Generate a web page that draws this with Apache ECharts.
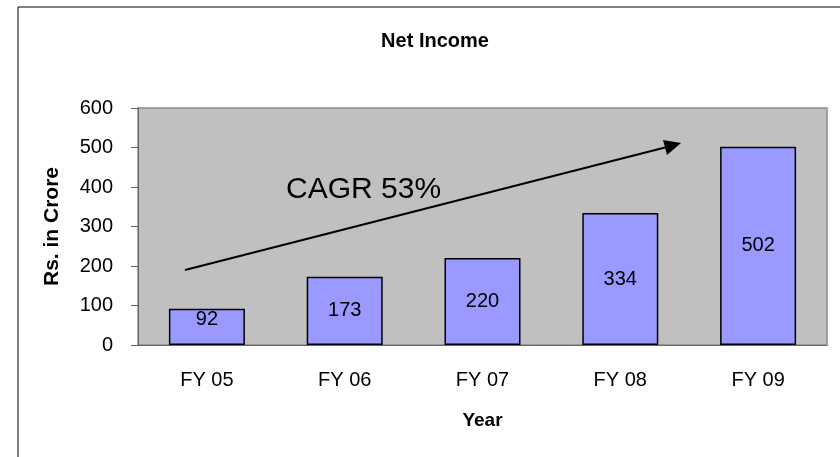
<!DOCTYPE html>
<html>
<head>
<meta charset="utf-8">
<script src="https://cdn.jsdelivr.net/npm/echarts@6/dist/echarts.min.js"></script>
<style>
  html, body { margin: 0; padding: 0; background: #fff; }
  #chart { width: 840px; height: 457px; }
</style>
</head>
<body>
<div id="chart"></div>
<script>
const years = ['FY 05', 'FY 06', 'FY 07', 'FY 08', 'FY 09']
const netIncome = [92, 173, 220, 334, 502]
const yTicks = { min: 0, max: 600, interval: 100 }
const cagrText = 'CAGR 53%'

const font = 'Liberation Sans, Arial, sans-serif'
const chart = echarts.init(document.getElementById('chart'))

// short bars: label sits at the top of the bar, like the original
const barData = netIncome.map(v => v < 120
  ? { value: v, label: { position: 'insideTop', distance: 1 } }
  : v)

const option = {
  animation: false,
  backgroundColor: '#fff',
  title: {
    text: 'Net Income',
    left: 430,
    textAlign: 'center',
    top: 26,
    textStyle: { fontFamily: font, fontSize: 20, fontWeight: 'bold', color: '#000' },
  },
  grid: {
    left: 138,
    right: 13,
    top: 108,
    bottom: 112,
    show: true,
    backgroundColor: '#c0c0c0',
    borderColor: '#8c8c8c',
    borderWidth: 1.5,
  },
  xAxis: {
    type: 'category',
    data: years,
    name: 'Year',
    nameLocation: 'middle',
    nameGap: 66,
    nameTextStyle: { fontFamily: font, fontSize: 19, fontWeight: 'bold', color: '#000' },
    axisLine: { lineStyle: { color: '#666', width: 1 } },
    axisTick: { length: 7, lineStyle: { color: '#666' } },
    axisLabel: { fontFamily: font, fontSize: 20, color: '#000', margin: 25 },
  },
  yAxis: {
    type: 'value',
    min: yTicks.min,
    max: yTicks.max,
    interval: yTicks.interval,
    name: 'Rs. in Crore',
    nameLocation: 'middle',
    nameGap: 75,
    nameTextStyle: { fontFamily: font, fontSize: 21, fontWeight: 'bold', color: '#000' },
    axisLine: { show: true, lineStyle: { color: '#666', width: 1 } },
    axisTick: { show: true, length: 7, lineStyle: { color: '#666' } },
    axisLabel: { fontFamily: font, fontSize: 20, color: '#000', margin: 25 },
    splitLine: { show: false },
  },
  series: [{
    type: 'bar',
    data: barData,
    barWidth: 76,
    itemStyle: { color: '#9999ff', borderColor: '#000', borderWidth: 1.5 },
    label: {
      show: true,
      position: 'inside',
      fontFamily: font,
      fontSize: 20,
      color: '#000',
    },
  }],
  graphic: [
    {
      // outer chart border (only left/top visible)
      type: 'rect',
      shape: { x: 18, y: 7, width: 840, height: 460 },
      style: { fill: 'none', stroke: '#000', lineWidth: 1 },
      silent: true,
    },
    {
      type: 'line',
      shape: { x1: 185, y1: 270, x2: 667, y2: 147 },
      style: { stroke: '#000', lineWidth: 2 },
      z: 100,
    },
    {
      type: 'polygon',
      shape: { points: [[681, 143], [663, 140], [667, 155]] },
      style: { fill: '#000' },
      z: 100,
    },
    {
      type: 'text',
      x: 286,
      y: 175,
      style: { text: cagrText, fontFamily: font, fontSize: 30, fill: '#000' },
      z: 100,
    },
  ],
}

chart.setOption(option)
</script>
</body>
</html>
